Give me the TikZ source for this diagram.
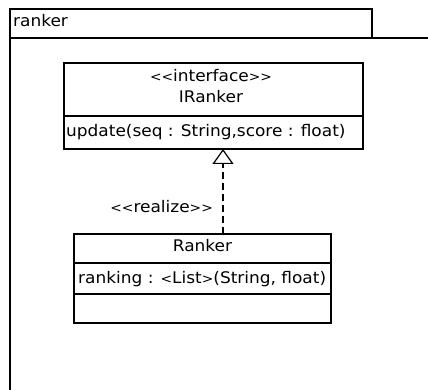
\documentclass[tikz,border=0pt]{standalone}
\usepackage{fontspec}
\setmainfont{DejaVu Sans}[FakeStretch=1.06]
\usetikzlibrary{arrows.meta}
\newcommand{\sml}[1]{{\fontsize{13}{15}\selectfont #1}}
\newcommand{\stL}{\sml{<\kern0pt<}}
\newcommand{\stR}{\sml{>\kern0pt>}}
\tikzset{
  umlbox/.style={draw, line width=1.2pt, anchor=north west, inner sep=0pt, outer sep=0pt},
  umltext/.style={font=\fontsize{16}{19}\selectfont, inner sep=0pt},
}
\begin{document}
\begin{tikzpicture}[x=1pt,y=-1pt]
\useasboundingbox (0,0) rectangle (428,390);
\clip (0,0) rectangle (428,390);
\fill[white] (0,0) rectangle (428,390);
% package
\node[umlbox, minimum width=362, minimum height=29] (tab) at (10,9) {};
\node[umltext, anchor=base west] (pkgname) at (13,27) {ranker};
\coordinate (bodyTL) at (10,38);
\coordinate (bodyTR) at (440,38);
\coordinate (bodyBL) at (10,400);
\draw[line width=1.2pt] (bodyTR) -- (bodyTL) -- (bodyBL);
% interface
\node[umlbox, minimum width=299, minimum height=53] (ihead) at (64,63) {};
\node[umlbox, minimum width=299, minimum height=33] (iops) at (64,116) {};
\node[umltext, anchor=base] (istereo) at (211,81.5) {\stL interface\stR};
\node[umltext, anchor=base] (iname) at (211,102.5) {IRanker};
\node[umltext, anchor=base west] (iop) at (66,137) {update(seq : String,score : float)};
% class
\node[umlbox, minimum width=257, minimum height=29] (rhead) at (74,234) {};
\node[umlbox, minimum width=257, minimum height=31] (rattr) at (74,263) {};
\node[umlbox, minimum width=257, minimum height=29] (rops) at (74,294) {};
\node[umltext, anchor=base] (rname) at (202.5,251) {Ranker};
\node[umltext, anchor=base west] (rat) at (78,283) {ranking : \sml{<}List\sml{>}(String, float)};
% realization
\coordinate (realS) at (223,234);
\coordinate (realE) at (223,149);
\draw[line width=1.2pt, dash pattern=on 7pt off 4pt, -{Triangle[open, length=15pt, width=21pt, line width=1.2pt]}] (realS) -- (realE);
\node[umltext, anchor=base east] (rlab) at (213,212) {\stL realize\stR};
\end{tikzpicture}
\end{document}
